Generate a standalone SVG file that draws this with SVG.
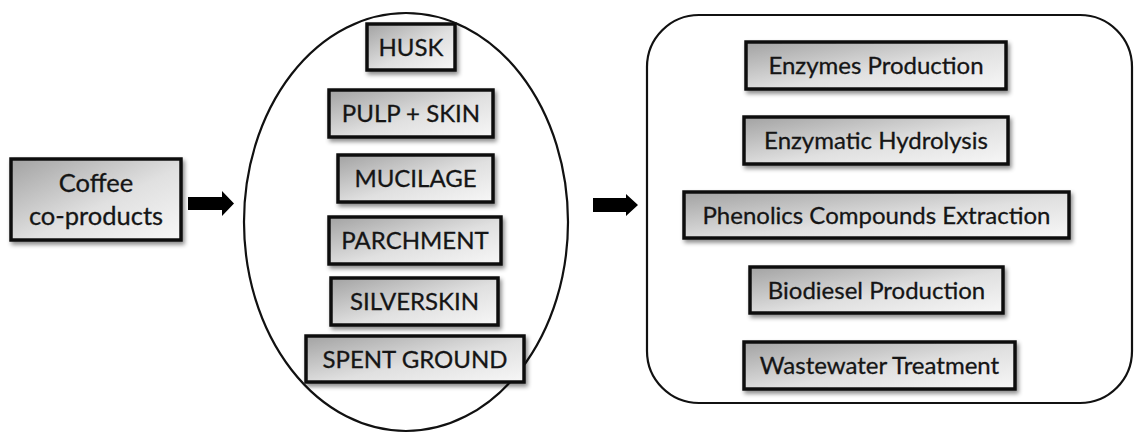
<svg xmlns="http://www.w3.org/2000/svg" width="1134" height="433" viewBox="0 0 1134 433">
  <defs>
    <linearGradient id="g" x1="0" y1="0" x2="1" y2="1">
      <stop offset="0" stop-color="#a2a2a2"/>
      <stop offset="0.55" stop-color="#e0e0e0"/>
      <stop offset="1" stop-color="#f7f7f7"/>
    </linearGradient>
    <filter id="sh" x="-10%" y="-20%" width="125%" height="150%">
      <feDropShadow dx="2" dy="3" stdDeviation="2" flood-color="#000" flood-opacity="0.45"/>
    </filter>
  </defs>
  <style>
    .box { fill: url(#g); stroke: #111; stroke-width: 3.5; filter: url(#sh); }
    .t { font-family: Lato, "Liberation Sans", sans-serif; font-size: 24px; fill: #151515; stroke: #151515; stroke-width: 0.3; text-anchor: middle; }
    .big { font-size: 25.5px; }
    .outline { fill: none; stroke: #111; stroke-width: 2.2; }
    .arrow { fill: #000; }
  </style>
  <rect width="1134" height="433" fill="#fff"/>

  <g id="group-ellipse">
    <ellipse class="outline" cx="406" cy="222" rx="162" ry="209"/>
  </g>
  <g id="group-applications">
    <rect class="outline" x="647" y="15" width="485" height="388" rx="52" ry="52"/>
  </g>

  <g id="coffee">
    <rect class="box" x="11" y="159" width="170" height="81"/>
    <text class="t big" x="96" y="192">Coffee</text>
    <text class="t big" x="96" y="225">co-products</text>
  </g>

  <g id="husk">
    <rect class="box" x="367" y="24" width="88" height="46"/>
    <text class="t" x="411" y="56">HUSK</text>
  </g>
  <g id="pulp">
    <rect class="box" x="329" y="90" width="164" height="47"/>
    <text class="t" x="411" y="122">PULP + SKIN</text>
  </g>
  <g id="mucilage">
    <rect class="box" x="338" y="155" width="155" height="47"/>
    <text class="t" x="415.5" y="187">MUCILAGE</text>
  </g>
  <g id="parchment">
    <rect class="box" x="329" y="217" width="172" height="47"/>
    <text class="t" x="415" y="249">PARCHMENT</text>
  </g>
  <g id="silverskin">
    <rect class="box" x="331" y="278" width="167" height="47"/>
    <text class="t" x="414.5" y="310">SILVERSKIN</text>
  </g>
  <g id="spent">
    <rect class="box" x="306" y="336" width="218" height="46"/>
    <text class="t" x="415" y="368">SPENT GROUND</text>
  </g>

  <g id="enzymes">
    <rect class="box" x="746" y="42" width="260" height="47"/>
    <text class="t" x="876" y="74">Enzymes Production</text>
  </g>
  <g id="hydrolysis">
    <rect class="box" x="744" y="117" width="264" height="47"/>
    <text class="t" x="876" y="149">Enzymatic Hydrolysis</text>
  </g>
  <g id="phenolics">
    <rect class="box" x="684" y="192" width="385" height="46"/>
    <text class="t" x="876.5" y="224">Phenolics Compounds Extraction</text>
  </g>
  <g id="biodiesel">
    <rect class="box" x="750" y="267" width="253" height="46"/>
    <text class="t" x="876.5" y="299">Biodiesel Production</text>
  </g>
  <g id="wastewater">
    <rect class="box" x="744" y="342" width="271" height="47"/>
    <text class="t" x="879.5" y="374">Wastewater Treatment</text>
  </g>

  <g id="connectors">
    <path class="arrow" d="M188 197 H222 V191 L234 203.5 L222 216 V210 H188 Z"/>
    <path class="arrow" d="M593 198 H626 V194 L638 205 L626 216 V212 H593 Z"/>
  </g>
</svg>
